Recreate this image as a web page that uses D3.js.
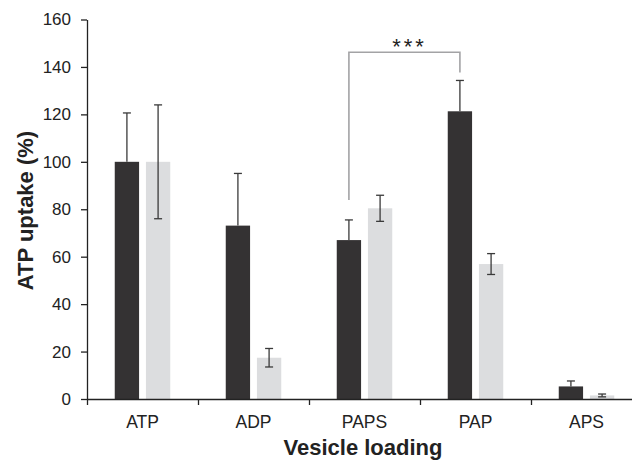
<!DOCTYPE html>
<html>
<head>
<meta charset="utf-8">
<script src="https://cdn.jsdelivr.net/npm/d3@7"></script>
<style>
  body { margin: 0; background: #fff; }
  svg text { font-family: "Liberation Sans", Arial, sans-serif; fill: #222; }
</style>
</head>
<body>
<div id="container"></div>
<script>
const categories = ["ATP", "ADP", "PAPS", "PAP", "APS"];
const series = ["dark", "light"];
const darkValues = [100, 73.1, 67, 121.3, 5.3];
const darkErrors = [20.6, 22, 8.5, 13, 2.3];
const lightValues = [100, 17.4, 80.4, 56.9, 1.5];
const lightErrors = [24, 3.9, 5.5, 4.4, 0.6];
const yTicks = [0, 20, 40, 60, 80, 100, 120, 140, 160];
// significance bracket: PAPS (dark) vs PAP (dark)
const bracket = { from: "PAPS", to: "PAP", top: 146.2, leftEnd: 83.9, rightEnd: 137.7, label: "***" };

const colors = { dark: "#343233", light: "#dcdddf" };

const width = 632;
const height = 460;
const plotLeft = 87;
const plotRight = 642;
const plotBottom = 399;
const plotTop = 19.5;

const svg = d3
  .select("#container")
  .append("svg")
  .attr("width", width)
  .attr("height", height);

const x = d3.scaleBand().domain(categories).range([plotLeft, plotRight]);
const x1 = d3
  .scaleBand()
  .domain(series)
  .range([0, x.bandwidth()])
  .paddingInner(0.22)
  .paddingOuter(0.89);
const y = d3.scaleLinear().domain([0, 160]).range([plotBottom, plotTop]);

const rows = categories.map((c, i) => ({
  cat: c,
  bars: [
    { key: "dark", value: darkValues[i], err: darkErrors[i] },
    { key: "light", value: lightValues[i], err: lightErrors[i] },
  ],
}));

// Bars
const groups = svg
  .append("g")
  .selectAll("g")
  .data(rows)
  .enter()
  .append("g")
  .attr("transform", (d) => `translate(${x(d.cat)},0)`);

groups
  .selectAll("rect")
  .data((d) => d.bars)
  .enter()
  .append("rect")
  .attr("x", (d) => x1(d.key))
  .attr("y", (d) => y(d.value))
  .attr("width", x1.bandwidth())
  .attr("height", (d) => y(0) - y(d.value))
  .attr("fill", (d) => colors[d.key]);

// Error bars (the lower half disappears inside the dark bars)
const capW = 4;
const lowEnd = (d) => (d.key === "dark" ? d.value : Math.max(0, d.value - d.err));
const err = groups
  .selectAll("g.err")
  .data((d) => d.bars)
  .enter()
  .append("g")
  .attr("class", "err")
  .attr("stroke", "#3a3a3a")
  .attr("stroke-width", 1.3);

const cx = (d) => x1(d.key) + x1.bandwidth() / 2;
err
  .append("line")
  .attr("x1", cx)
  .attr("x2", cx)
  .attr("y1", (d) => y(d.value + d.err))
  .attr("y2", (d) => y(lowEnd(d)));
err
  .append("line")
  .attr("x1", (d) => cx(d) - capW)
  .attr("x2", (d) => cx(d) + capW)
  .attr("y1", (d) => y(d.value + d.err))
  .attr("y2", (d) => y(d.value + d.err));
err
  .filter((d) => d.key === "light")
  .append("line")
  .attr("x1", (d) => cx(d) - capW)
  .attr("x2", (d) => cx(d) + capW)
  .attr("y1", (d) => y(lowEnd(d)))
  .attr("y2", (d) => y(lowEnd(d)));

// Y axis
const yAxis = svg
  .append("g")
  .attr("transform", `translate(${plotLeft},0)`)
  .call(d3.axisLeft(y).tickValues(yTicks).tickSize(6).tickSizeOuter(0).tickPadding(10));
yAxis.select(".domain").attr("stroke", "#222").attr("stroke-width", 1.3);
yAxis.selectAll(".tick line").attr("stroke", "#222").attr("stroke-width", 1.3);
yAxis.selectAll(".tick text").style("font-size", "17px").attr("fill", "#222");

// X axis: ticks at band boundaries, labels centred
const xb = d3.scaleLinear().domain([0, categories.length]).range([plotLeft, plotRight]);
const xAxis = svg
  .append("g")
  .attr("transform", `translate(0,${plotBottom})`)
  .call(d3.axisBottom(xb).ticks(categories.length).tickSize(6).tickSizeOuter(0).tickFormat(""));
xAxis.select(".domain").attr("stroke", "#222").attr("stroke-width", 1.3);
xAxis.selectAll(".tick line").attr("stroke", "#222").attr("stroke-width", 1.3);

svg
  .append("g")
  .selectAll("text")
  .data(categories)
  .enter()
  .append("text")
  .attr("x", (d) => x(d) + x.bandwidth() / 2)
  .attr("y", 427.5)
  .attr("text-anchor", "middle")
  .style("font-size", "17.5px")
  .text((d) => d);

// Axis titles
svg
  .append("text")
  .attr("x", 363)
  .attr("y", 455)
  .attr("text-anchor", "middle")
  .style("font-size", "22px")
  .style("font-weight", "bold")
  .text("Vesicle loading");

svg
  .append("text")
  .attr("transform", "translate(33,210.5) rotate(-90)")
  .attr("text-anchor", "middle")
  .style("font-size", "22px")
  .style("font-weight", "bold")
  .text("ATP uptake (%)");

// Significance bracket
const bx1 = x(bracket.from) + x1("dark") + x1.bandwidth() / 2;
const bx2 = x(bracket.to) + x1("dark") + x1.bandwidth() / 2;
svg
  .append("path")
  .attr(
    "d",
    `M${bx1},${y(bracket.leftEnd)}V${y(bracket.top)}H${bx2}V${y(bracket.rightEnd)}`
  )
  .attr("fill", "none")
  .attr("stroke", "#a3a3a5")
  .attr("stroke-width", 1.6);

svg
  .append("text")
  .attr("x", (bx1 + bx2) / 2 + 5)
  .attr("y", 54)
  .attr("text-anchor", "middle")
  .style("font-size", "22px")
  .style("letter-spacing", "2.9px")
  .text(bracket.label);
</script>
</body>
</html>
